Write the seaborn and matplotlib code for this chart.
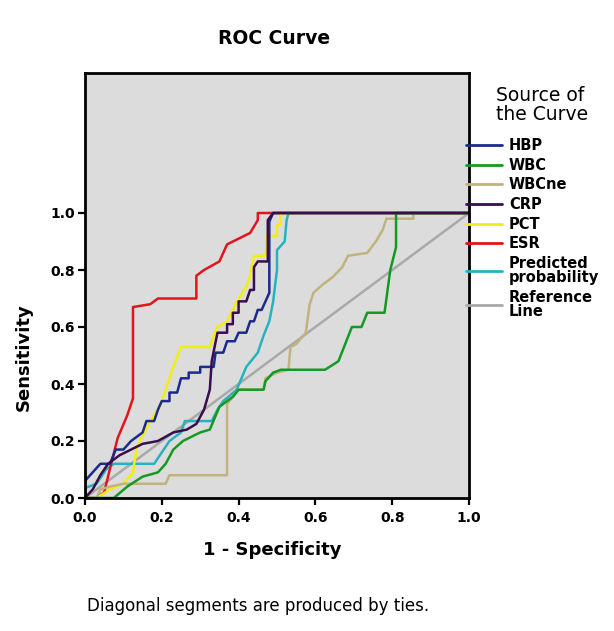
import matplotlib
matplotlib.use("Agg")
import matplotlib.pyplot as plt
import seaborn as sns
import pandas as pd
from matplotlib.lines import Line2D

# ---------------- data ----------------
sources = ["HBP", "WBC", "WBCne", "CRP", "PCT", "ESR",
           "Predicted\nprobability", "Reference\nLine"]

hbp_x = [0, 0, 0.04, 0.065, 0.08, 0.10, 0.12, 0.15, 0.16, 0.18, 0.19, 0.20, 0.22, 0.22, 0.24, 0.25,
         0.27, 0.27, 0.30, 0.30, 0.335, 0.34, 0.36, 0.37, 0.39, 0.40, 0.42, 0.43, 0.44, 0.45, 0.46,
         0.47, 0.48, 0.48, 0.49, 1.0]
hbp_y = [0, 0.06, 0.12, 0.12, 0.17, 0.17, 0.20, 0.23, 0.27, 0.27, 0.31, 0.34, 0.34, 0.37, 0.37, 0.42,
         0.42, 0.44, 0.44, 0.46, 0.46, 0.51, 0.51, 0.55, 0.55, 0.58, 0.58, 0.62, 0.62, 0.66, 0.66,
         0.69, 0.72, 0.97, 1.0, 1.0]

wbc_x = [0, 0.075, 0.11, 0.15, 0.19, 0.21, 0.23, 0.255, 0.30, 0.325, 0.35, 0.385, 0.40, 0.465, 0.47,
         0.49, 0.51, 0.625, 0.66, 0.695, 0.72, 0.735, 0.78, 0.795, 0.81, 0.81, 1.0]
wbc_y = [0, 0, 0.04, 0.075, 0.09, 0.12, 0.17, 0.20, 0.23, 0.24, 0.32, 0.355, 0.38, 0.38, 0.41,
         0.44, 0.45, 0.45, 0.48, 0.60, 0.60, 0.65, 0.65, 0.80, 0.88, 1.0, 1.0]

wbcne_x = [0, 0.03, 0.04, 0.065, 0.10, 0.21, 0.22, 0.37, 0.37, 0.40, 0.465, 0.47, 0.50, 0.53, 0.535,
           0.55, 0.575, 0.585, 0.595, 0.62, 0.645, 0.67, 0.685, 0.735, 0.76, 0.775, 0.785, 0.855,
           0.855, 1.0]
wbcne_y = [0, 0, 0.03, 0.04, 0.05, 0.05, 0.08, 0.08, 0.33, 0.38, 0.38, 0.42, 0.44, 0.45, 0.53,
           0.54, 0.58, 0.68, 0.72, 0.75, 0.775, 0.81, 0.85, 0.86, 0.905, 0.94, 0.98, 0.98,
           1.0, 1.0]

crp_x = [0, 0.02, 0.04, 0.06, 0.09, 0.15, 0.19, 0.23, 0.265, 0.29, 0.31, 0.325, 0.33, 0.345, 0.37,
         0.37, 0.385, 0.385, 0.40, 0.40, 0.42, 0.43, 0.44, 0.44, 0.45, 0.476, 0.476, 0.49, 1.0]
crp_y = [0, 0.03, 0.08, 0.12, 0.15, 0.19, 0.20, 0.23, 0.24, 0.26, 0.31, 0.38, 0.48, 0.58, 0.58,
         0.61, 0.61, 0.65, 0.65, 0.69, 0.69, 0.73, 0.73, 0.81, 0.83, 0.83, 0.975, 1.0, 1.0]

pct_x = [0, 0.03, 0.065, 0.10, 0.125, 0.135, 0.17, 0.195, 0.21, 0.23, 0.25, 0.325, 0.335, 0.345,
         0.37, 0.385, 0.40, 0.42, 0.43, 0.44, 0.47, 0.475, 0.50, 0.50, 0.51, 0.51, 1.0]
pct_y = [0, 0, 0.03, 0.05, 0.09, 0.18, 0.27, 0.32, 0.38, 0.46, 0.53, 0.53, 0.57, 0.60,
         0.62, 0.66, 0.70, 0.74, 0.78, 0.85, 0.85, 0.92, 0.92, 0.96, 0.96, 1.0, 1.0]

esr_x = [0, 0.03, 0.05, 0.07, 0.085, 0.11, 0.125, 0.125, 0.17, 0.19, 0.29, 0.29, 0.31, 0.35, 0.37,
         0.40, 0.43, 0.45, 0.45, 1.0]
esr_y = [0, 0, 0.02, 0.13, 0.21, 0.29, 0.35, 0.67, 0.68, 0.70, 0.70, 0.78, 0.80, 0.83, 0.89,
         0.91, 0.93, 0.975, 1.0, 1.0]

pred_x = [0, 0, 0.03, 0.055, 0.075, 0.18, 0.20, 0.22, 0.25, 0.26, 0.33, 0.345, 0.36, 0.395, 0.42,
          0.45, 0.465, 0.48, 0.49, 0.50, 0.50, 0.52, 0.525, 0.53, 1.0]
pred_y = [0, 0.035, 0.05, 0.10, 0.12, 0.12, 0.16, 0.20, 0.23, 0.27, 0.27, 0.31, 0.34, 0.38, 0.46,
          0.51, 0.57, 0.62, 0.69, 0.80, 0.87, 0.90, 0.975, 1.0, 1.0]

ref_x = [0, 1.0]
ref_y = [0, 1.0]

colors = ["#1c2a8c", "#149a22", "#c2b27e", "#3a0d4c", "#f2ee10", "#e3141c", "#26b2c0", "#a9a9a9"]

xticks = [0.0, 0.2, 0.4, 0.6, 0.8, 1.0]
yticks = [0.0, 0.2, 0.4, 0.6, 0.8, 1.0]

# ---------------- build long table ----------------
xs = [hbp_x, wbc_x, wbcne_x, crp_x, pct_x, esr_x, pred_x, ref_x]
ys = [hbp_y, wbc_y, wbcne_y, crp_y, pct_y, esr_y, pred_y, ref_y]
frames = []
for name, x, y in zip(sources, xs, ys):
    frames.append(pd.DataFrame({"fpr": x, "tpr": y, "source": name}))
df = pd.concat(frames, ignore_index=True)
palette = dict(zip(sources, colors))
# drawing order: dark curves end up on top (as in the reference)
draw_order = ["Reference\nLine", "Predicted\nprobability", "ESR", "PCT", "WBCne", "WBC", "HBP", "CRP"]

# ---------------- figure ----------------
sns.set_theme(style="white")
plt.rcParams["font.family"] = ["DejaVu Sans"]
plt.rcParams["text.color"] = "black"
plt.rcParams["axes.labelcolor"] = "black"

W, H = 614, 631
fig = plt.figure(figsize=(W / 100, H / 100), dpi=100)
ax = fig.add_axes([85 / W, 1 - 498 / H, 384 / W, 425 / H])
ax.set_facecolor("#dcdcdc")

sns.lineplot(data=df, x="fpr", y="tpr", hue="source", hue_order=draw_order, palette=palette,
             sort=False, estimator=None, linewidth=1.8, legend=False, ax=ax)

ax.set_xlim(0, 1)
ax.set_ylim(0, 425 / 285)
ax.set_xticks(xticks)
ax.set_yticks(yticks)
ax.set_xticklabels([f"{t:.1f}" for t in xticks], fontweight="bold", fontsize=10)
ax.set_yticklabels([f"{t:.1f}" for t in yticks], fontweight="bold", fontsize=10)
ax.tick_params(axis="both", which="major", direction="out", length=5, width=1.6,
               color="black", bottom=True, left=True, pad=2, labelcolor="black")
ax.tick_params(axis="x", pad=4)
for s in ax.spines.values():
    s.set_color("black")
    s.set_linewidth(2.0)

ax.set_xlabel("1 - Specificity", fontsize=13, fontweight="bold", color="black")
ax.set_ylabel("Sensitivity", fontsize=13, fontweight="bold", color="black")
ax.xaxis.set_label_coords((272 - 85) / 384, (498 - 541) / 425)
ax.yaxis.set_label_coords((33 - 85) / 384, (498 - 357) / 425)

fig.text(274 / W, 1 - 38 / H, "ROC Curve", ha="center", va="center",
         fontsize=13.5, fontweight="bold", color="black")
fig.text(258 / W, 1 - 606 / H, "Diagonal segments are produced by ties.", ha="center",
         va="center", fontsize=12, color="black")

# legend
fig.text(496 / W, 1 - 86 / H, "Source of\nthe Curve", ha="left", va="top",
         fontsize=13.5, linespacing=1.0, color="black")
handles = [Line2D([0], [0], color=c, lw=2) for c in colors]
leg = fig.legend(handles, sources, loc="upper left", bbox_to_anchor=(466 / W, 1 - 138 / H),
                 frameon=False, prop={"weight": "bold", "size": 10.5}, handlelength=2.5,
                 handletextpad=0.45, labelspacing=0.32, borderaxespad=0, borderpad=0,
                 labelcolor="black")
for t in leg.get_texts():
    t.set_linespacing(0.92)

fig.savefig("out.png", dpi=100)
